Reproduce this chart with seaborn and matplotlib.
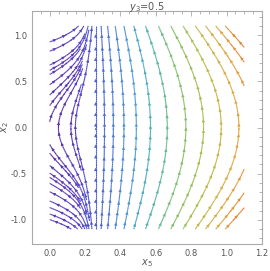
import numpy as np
import matplotlib
matplotlib.use("Agg")
import matplotlib.pyplot as plt
import seaborn as sns
from matplotlib.colors import LinearSegmentedColormap, Normalize

# field parameters / labels
title = "$y_3$=0.5"
xlabel = "$x_5$"
ylabel = "$x_2$"
x_range = (0.0, 1.1)
y_range = (-1.1, 1.1)
x_zero = 0.26      # where x5' changes sign
strength = 0.6
v_left, v_right = 0.1, 1.0

# seed points (x5, x2)
right_x = [0.26, 0.31, 0.36, 0.42, 0.49, 0.57, 0.665, 0.77, 0.87, 0.97, 1.07]
corner_pts = [(0.96, 0.9), (1.0, 0.96), (1.04, 1.0),
              (0.96, -0.9), (1.0, -0.96), (1.04, -1.0)]
mid_pts = [(0.238, 1.08), (0.215, 1.08), (0.24, -1.08), (0.22, -1.08)]
left_y = [1.05, 0.93, 0.83, 0.68, 0.58, 0.47, 0.36, 0.25, 0.1,
          -0.2, -0.29, -0.42, -0.5, -0.61, -0.7, -0.8, -0.87, -0.94, -1.0, -1.06]
extra_pts = [(0.12, 0.0), (0.05, -0.03)]

color_stops = [(0.0, "#5a2c9e"), (0.12, "#5a3cc0"), (0.22, "#4b62d6"),
               (0.36, "#4f94d6"), (0.46, "#4fb0bf"), (0.6, "#80c06c"),
               (0.74, "#b8bc48"), (0.86, "#dfa83e"), (1.0, "#e8702c")]
cmap = LinearSegmentedColormap.from_list("mma", color_stops)

sns.set_style("white")

x = np.linspace(*x_range, 220)
y = np.linspace(*y_range, 220)
X, Y = np.meshgrid(x, y)
V = v_left + (v_right - v_left) / (1 + np.exp(-(X - 0.27) / 0.03))
U = -strength * Y * (X - x_zero)
C = np.hypot(X, U)
norm = Normalize(0, C.max())

seeds = [(xx, 0.0) for xx in right_x] + corner_pts + mid_pts
seeds += [(0.005, yy) for yy in left_y] + extra_pts
seeds = np.array(seeds)

fig = plt.figure(figsize=(2.7, 2.71), dpi=100)
ax = fig.add_axes([0.1185, 0.1, 0.8515, 0.859])
ax.set_xlim(-0.1, 1.2)
ax.set_ylim(-1.26, 1.26)

sp = ax.streamplot(X, Y, U, V, color=C, cmap=cmap, norm=norm, linewidth=0.8,
                   start_points=seeds, broken_streamlines=True,
                   arrowstyle="-", density=3.2)
segs = sp.lines.get_segments()
cols = cmap(norm(np.asarray(sp.lines.get_array())))

# split the collection back into separate lines, then put arrows along each
lines, cur, curc = [], [segs[0]], [cols[0]]
for s, c in zip(segs[1:], cols[1:]):
    if np.allclose(s[0], cur[-1][1]):
        cur.append(s)
        curc.append(c)
    else:
        lines.append((cur, curc))
        cur, curc = [s], [c]
lines.append((cur, curc))

for ls, lc in lines:
    pts = np.array([ls[0][0]] + [s[1] for s in ls])
    disp = ax.transData.transform(pts)
    d = np.r_[0, np.cumsum(np.hypot(*np.diff(disp, axis=0).T))]
    for target in np.arange(6, d[-1] - 2, 11):
        i = min(np.searchsorted(d, target), len(pts) - 1)
        if i < 1:
            continue
        ax.annotate("", xy=pts[i], xytext=pts[i - 1],
                    arrowprops=dict(arrowstyle="-|>", color=lc[i - 1], lw=0,
                                    mutation_scale=6, shrinkA=0, shrinkB=0))

ax.set_xticks(np.arange(0, 1.21, 0.2))
ax.set_xticklabels([f"{t:.1f}" for t in np.arange(0, 1.21, 0.2)])
ax.set_xticks(np.arange(-0.1, 1.2, 0.05), minor=True)
ax.set_yticks([-1.0, -0.5, 0.0, 0.5, 1.0])
ax.set_yticklabels(["-1.0", "-0.5", "0.0", "0.5", "1.0"])
ax.set_yticks(np.arange(-1.2, 1.21, 0.1), minor=True)
ax.tick_params(which="both", direction="in", top=True, right=True,
               colors="#999999", labelcolor="#555555", labelsize=6, width=0.5)
ax.tick_params(which="major", length=3.5)
ax.tick_params(which="minor", length=2)
for s in ax.spines.values():
    s.set_color("#aaaaaa")
    s.set_linewidth(0.8)
ax.set_title(title, fontsize=7, color="#555555", pad=1)
ax.set_xlabel(xlabel, fontsize=7, color="#555555")
ax.set_ylabel(ylabel, fontsize=7, color="#555555")
ax.xaxis.set_label_coords(0.5, -0.055)
ax.yaxis.set_label_coords(-0.09, 0.5)

fig.savefig("out.png", dpi=100)
